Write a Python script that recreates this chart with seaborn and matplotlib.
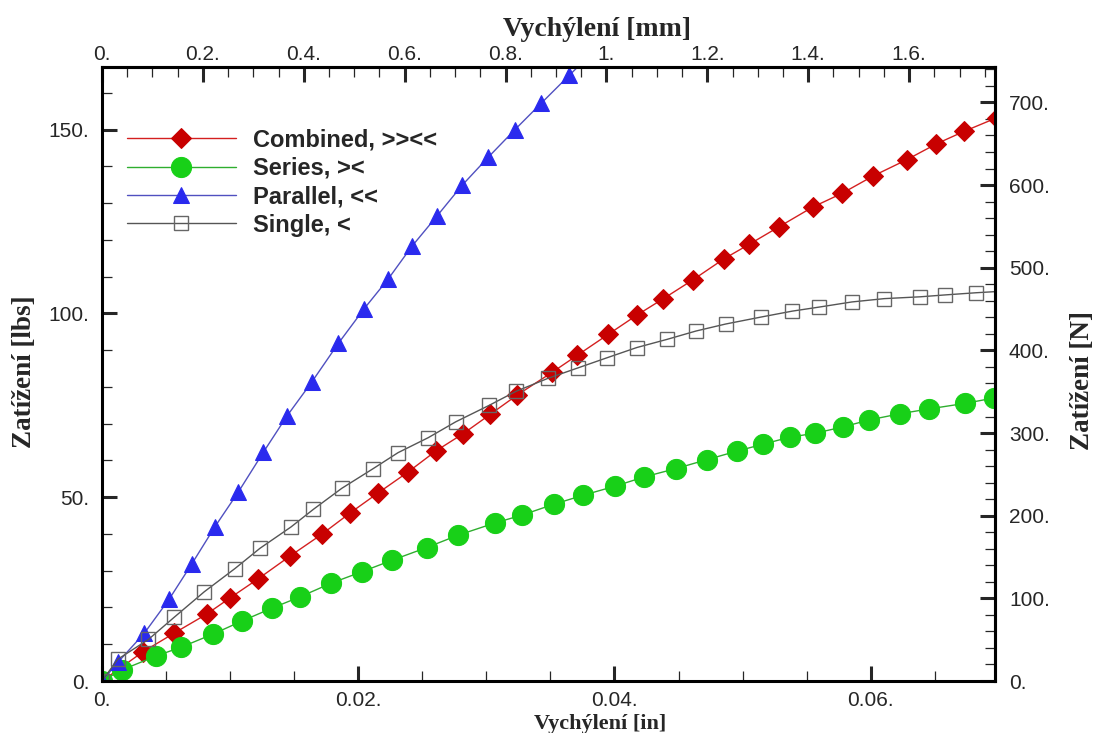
import numpy as np
import matplotlib
matplotlib.use("Agg")
import matplotlib.pyplot as plt
import seaborn as sns
from matplotlib.ticker import MultipleLocator, FuncFormatter

# --- data: deflection [in], load [lbs] ---
x_combined = [0.0, 0.00322, 0.00562, 0.00817, 0.00999, 0.01215, 0.01468, 0.01715, 0.01936,
              0.02157, 0.02391, 0.02607, 0.02820, 0.03029, 0.03237, 0.03515, 0.03710, 0.03952,
              0.04174, 0.04382, 0.04616, 0.04853, 0.05053, 0.05287, 0.05547, 0.05774, 0.06021,
              0.06282, 0.06513, 0.06729, 0.06984]
y_combined = [0.0, 8.0, 13.0, 18.2, 22.6, 27.7, 34.0, 39.9, 45.7,
              51.2, 56.9, 62.6, 67.3, 72.5, 77.7, 84.0, 88.6, 94.3,
              99.5, 104.0, 109.2, 114.8, 118.8, 123.6, 128.9, 132.6, 137.4,
              141.8, 146.1, 149.5, 153.2]

x_series = [0.0, 0.00154, 0.00422, 0.00617, 0.00869, 0.01091, 0.01325, 0.01546, 0.01788,
            0.02027, 0.02260, 0.02534, 0.02782, 0.03068, 0.03276, 0.03528, 0.03753, 0.04005,
            0.04231, 0.04481, 0.04721, 0.04953, 0.05158, 0.05366, 0.05566, 0.05782, 0.05987,
            0.06229, 0.06453, 0.06734, 0.06966]
y_series = [0.0, 3.0, 6.8, 9.2, 12.8, 16.3, 19.8, 22.9, 26.6,
            29.7, 32.8, 36.3, 39.7, 43.0, 45.1, 48.1, 50.5, 53.0,
            55.5, 57.8, 60.2, 62.5, 64.4, 66.3, 67.4, 69.1, 71.0,
            72.7, 74.0, 75.5, 77.0]

x_parallel = [0.0, 0.00127, 0.00330, 0.00523, 0.00700, 0.00882, 0.01064, 0.01259, 0.01442,
              0.01637, 0.01844, 0.02047, 0.02235, 0.02418, 0.02613, 0.02810, 0.03013, 0.03224,
              0.03427, 0.03646, 0.03800]
y_parallel = [0.0, 5.2, 13.0, 22.2, 31.8, 42.0, 51.4, 62.2, 72.0,
              81.3, 91.8, 101.3, 109.4, 118.2, 126.4, 134.8, 142.4, 150.0,
              157.1, 164.7, 170.0]

# last point of the single curve is where the line meets the right axis (no marker there)
x_single = [0.0, 0.00122, 0.00362, 0.00562, 0.00799, 0.01038, 0.01233, 0.01475, 0.01650,
            0.01871, 0.02118, 0.02310, 0.02547, 0.02761, 0.03023, 0.03232, 0.03479, 0.03718,
            0.03940, 0.04174, 0.04408, 0.04637, 0.04868, 0.05145, 0.05387, 0.05597, 0.05853,
            0.06105, 0.06387, 0.06576, 0.06821, 0.06970]
y_single = [0.0, 5.9, 11.3, 17.3, 24.3, 30.6, 36.1, 41.9, 46.7,
            52.4, 57.8, 62.1, 66.2, 70.5, 75.0, 78.8, 82.3, 85.2,
            87.9, 90.7, 92.9, 95.2, 97.1, 99.0, 100.6, 101.7, 103.1,
            104.0, 104.5, 105.0, 105.6, 105.9]

labels = ["Combined, >><<", "Series, ><", "Parallel, <<", "Single, <"]

IN_TO_MM = 25.4
LBS_TO_N = 4.448

sns.set_style("ticks")
plt.rcParams["font.family"] = ["Liberation Sans", "DejaVu Sans"]

fig = plt.figure(figsize=(10.98, 7.33), dpi=100)
ax = fig.add_axes([0.0929, 0.0709, 0.8133, 0.8377])

common = dict(ax=ax, sort=False, estimator=None, linewidth=1.0)
sns.lineplot(x=x_combined, y=y_combined, color="#d42020", marker="D", markersize=10,
             markerfacecolor="#c80000", markeredgecolor="#c80000", label=labels[0], **common)
sns.lineplot(x=x_series, y=y_series, color="#2fae2f", marker="o", markersize=14.5,
             markerfacecolor="#18d018", markeredgecolor="#18d018", label=labels[1], **common)
sns.lineplot(x=x_parallel, y=y_parallel, color="#5050c0", marker="^", markersize=12,
             markerfacecolor="#2a2aee", markeredgecolor="#2a2aee", label=labels[2], **common)
sns.lineplot(x=x_single, y=y_single, color="#555555", marker="s", markersize=10,
             markerfacecolor="none", markeredgecolor="#666666", markeredgewidth=1.0,
             markevery=list(range(len(x_single) - 1)), label=labels[3], **common)

ax.set_xlim(0, 0.0697)
ax.set_ylim(0, 167)

for sp in ax.spines.values():
    sp.set_linewidth(2.2)
    sp.set_visible(True)
    sp.set_color("black")

dot_fmt = FuncFormatter(lambda v, p: f"{round(v, 6):g}.")

ax.xaxis.set_major_locator(MultipleLocator(0.02))
ax.xaxis.set_minor_locator(MultipleLocator(0.005))
ax.yaxis.set_major_locator(MultipleLocator(50))
ax.yaxis.set_minor_locator(MultipleLocator(10))
ax.xaxis.set_major_formatter(dot_fmt)
ax.yaxis.set_major_formatter(dot_fmt)
ax.tick_params(which="major", direction="in", length=11, width=2.2, labelsize=15, pad=7)
ax.tick_params(which="minor", direction="in", length=7, width=0.9)
ax.tick_params(axis="y", which="major", pad=9)

top = ax.secondary_xaxis("top", functions=(lambda v: v * IN_TO_MM, lambda v: v / IN_TO_MM))
top.xaxis.set_major_locator(MultipleLocator(0.2))
top.xaxis.set_minor_locator(MultipleLocator(0.05))
top.xaxis.set_major_formatter(dot_fmt)
top.tick_params(which="major", direction="in", length=11, width=2.2, labelsize=15, pad=2.5)
top.tick_params(which="minor", direction="in", length=7, width=0.9)
top.spines["top"].set_linewidth(2.2)

right = ax.secondary_yaxis("right", functions=(lambda v: v * LBS_TO_N, lambda v: v / LBS_TO_N))
right.yaxis.set_major_locator(MultipleLocator(100))
right.yaxis.set_minor_locator(MultipleLocator(20))
right.yaxis.set_major_formatter(dot_fmt)
right.tick_params(which="major", direction="in", length=11, width=2.2, labelsize=15, pad=10)
right.tick_params(which="minor", direction="in", length=7, width=0.9)
right.spines["right"].set_linewidth(2.2)

# empty offset texts and the unused labels of the secondary axes are not needed
for a in (ax.xaxis, ax.yaxis, top.xaxis, top.yaxis, right.xaxis, right.yaxis):
    a.offsetText.set_visible(False)
top.yaxis.label.set_visible(False)
right.xaxis.label.set_visible(False)

# axis titles, placed in the main axes' coordinates
serif = dict(fontfamily="Liberation Serif", fontweight="bold")
ax.set_xlabel("Vychýlení [in]", fontsize=16, **serif)
ax.xaxis.set_label_coords(0.558, -0.054, transform=ax.transAxes)
ax.set_ylabel("Zatížení [lbs]", fontsize=19.5, **serif)
ax.yaxis.set_label_coords(-0.0728, 0.503, transform=ax.transAxes)
top.set_xlabel("Vychýlení [mm]", fontsize=20, **serif)
top.xaxis.set_label_coords(0.554, 1.05, transform=ax.transAxes)
right.set_ylabel("Zatížení [N]", fontsize=19.5, **serif)
right.yaxis.set_label_coords(1.084, 0.49, transform=ax.transAxes)

ax.legend(loc="upper left", bbox_to_anchor=(0.028, 0.9), frameon=False,
          prop=dict(family="Liberation Sans", weight="bold", size=17),
          handlelength=4.6, handletextpad=0.75, labelspacing=0.23,
          borderpad=0, borderaxespad=0, numpoints=1)

fig.savefig("out.png", dpi=100)
